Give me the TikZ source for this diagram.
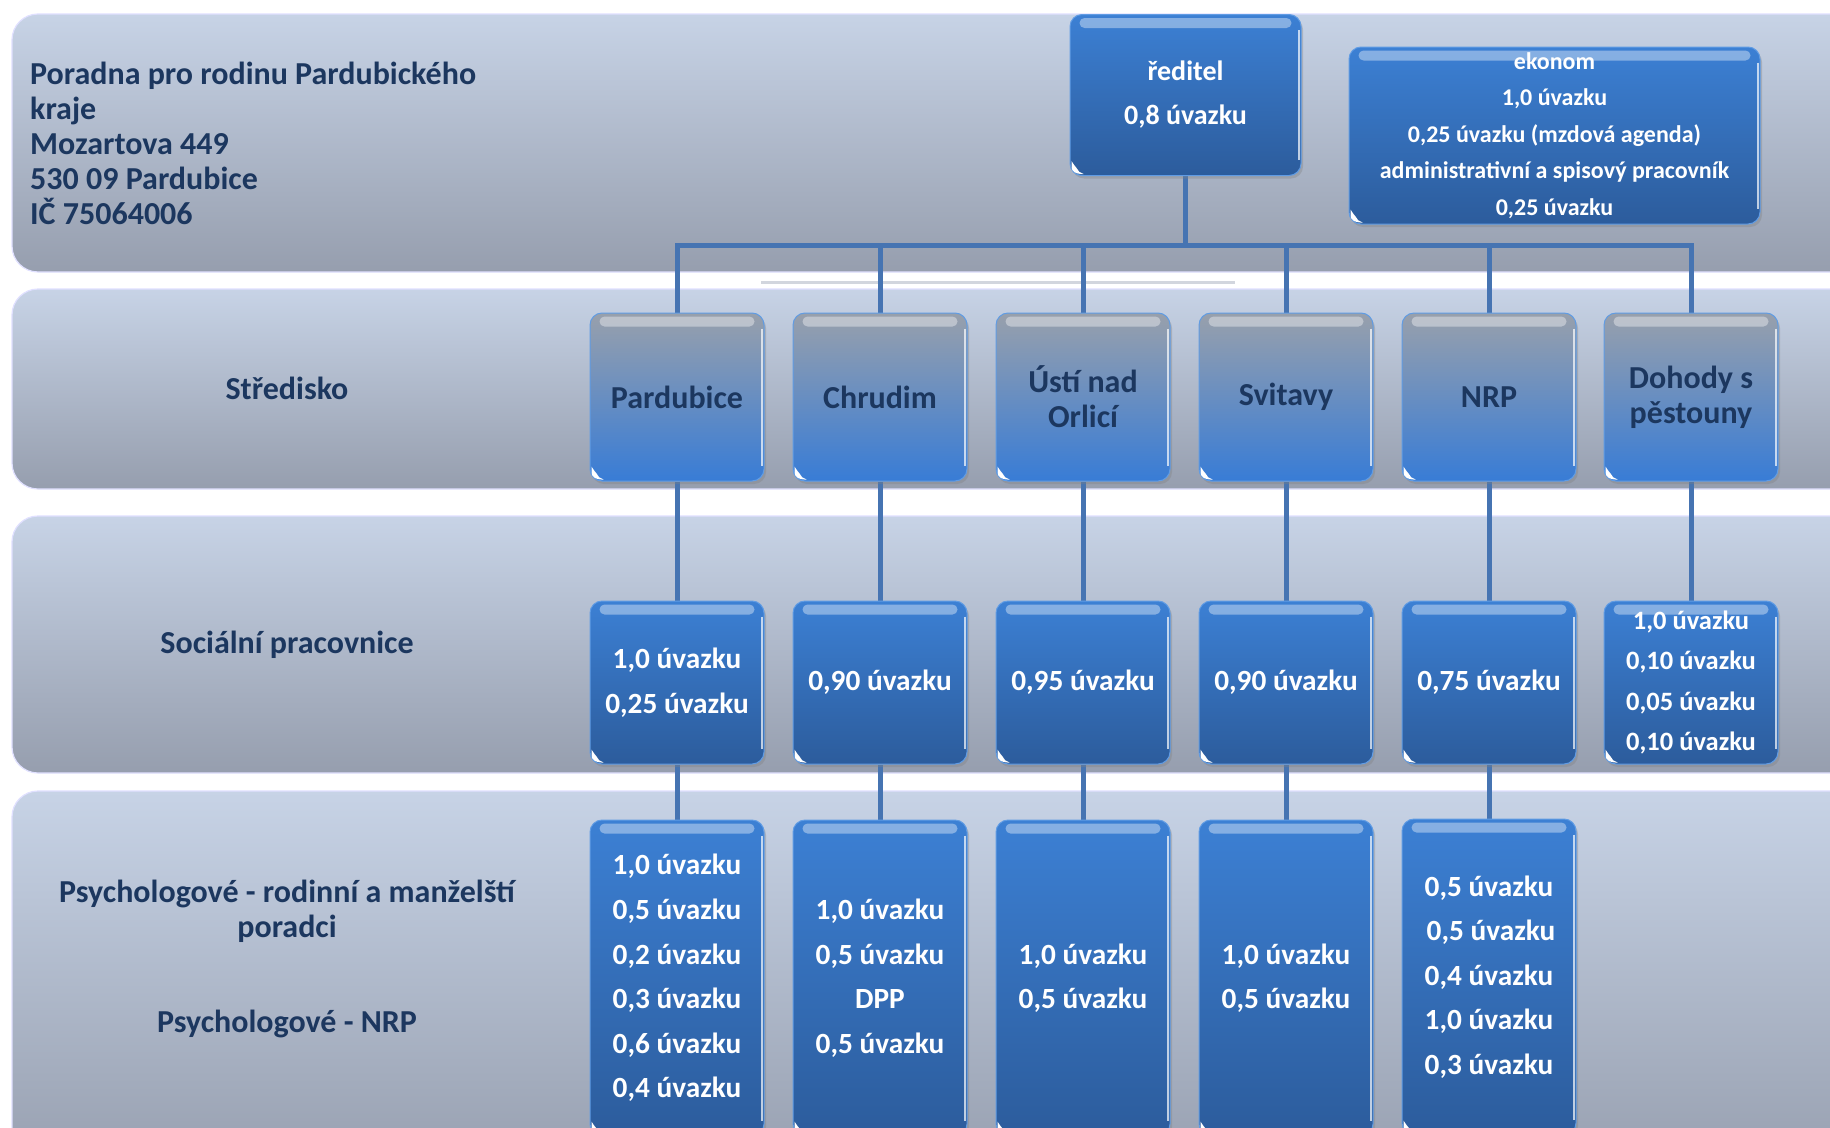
\documentclass[tikz,border=0pt]{standalone}
\usepackage{fontspec}
\setmainfont{Carlito}
\usetikzlibrary{shadows,calc}
\definecolor{navy}{RGB}{28,55,95}
\definecolor{conncol}{RGB}{70,116,178}
\definecolor{bandtop}{RGB}{199,211,230}
\definecolor{bandbot}{RGB}{150,158,174}
\definecolor{bluetop}{RGB}{60,128,212}
\definecolor{bluebot}{RGB}{44,92,156}
\definecolor{blueedge}{RGB}{96,156,228}
\definecolor{graytop}{RGB}{152,160,172}
\definecolor{graymid}{RGB}{104,140,196}
\definecolor{graybot}{RGB}{56,124,214}
\pgfdeclarelayer{bg}\pgfdeclarelayer{mid}\pgfsetlayers{bg,mid,main}
\tikzset{
  band/.style={rounded corners=26pt, top color=bandtop, bottom color=bandbot, draw=white!88!blue, line width=1.2pt},
  boxbase/.style={rounded corners=12pt, draw=blueedge, line width=1pt, align=center, inner sep=0pt,
     minimum width=174pt, font=\bfseries,
     drop shadow={shadow xshift=2pt,shadow yshift=-3pt,opacity=0.35}},
  bluebox/.style={boxbase, top color=bluetop, bottom color=bluebot, text=white},
  graybox/.style={boxbase, top color=graytop, middle color=graymid, bottom color=graybot, text=navy,
     minimum height=168pt, font=\bfseries\fontsize{32}{35}\selectfont},
  socbox/.style={bluebox, minimum height=163pt, font=\bfseries\fontsize{29.3}{45}\selectfont},
  psybox/.style={bluebox, minimum height=316pt, font=\bfseries\fontsize{29.3}{44.6}\selectfont},
  conn/.style={draw=conncol, line width=5pt},
  lbl/.style={text=navy, font=\bfseries\fontsize{32}{35}\selectfont, align=center, inner sep=0pt}
}
\newcommand{\gloss}[1]{%
  \fill[white,opacity=0.38,rounded corners=5pt] ([xshift=10pt,yshift=-4pt]#1.north west) rectangle ([xshift=-10pt,yshift=-14pt]#1.north east);
  \draw[white,opacity=0.7,line width=1.5pt] ([xshift=-2.5pt,yshift=-16pt]#1.north east) -- ([xshift=-2.5pt,yshift=16pt]#1.south east);
  \fill[white] ([xshift=2pt,yshift=15pt]#1.south west) -- ([xshift=2pt,yshift=9pt]#1.south west)
     to[out=-90,in=180] ([xshift=12pt,yshift=2pt]#1.south west) -- ([xshift=14pt,yshift=2pt]#1.south west)
     to[out=160,in=-70] ([xshift=7pt,yshift=8pt]#1.south west) to[out=110,in=-80] cycle;
}
\begin{document}
\begin{tikzpicture}[x=1pt,y=-1pt]
\useasboundingbox (0,0) rectangle (1830,1127);
\begin{pgfonlayer}{bg}
  \fill[white] (0,0) rectangle (1830,1127);
  \path[band] (12,14) rectangle (1880,272);
  \path[band] (12,289) rectangle (1880,489);
  \path[band] (12,516) rectangle (1880,773);
  \path[band] (12,791) rectangle (1880,1180);
  \draw[line width=3pt, color={rgb,255:red,210;green,214;blue,222}] (761,282) -- (1235,282);
\end{pgfonlayer}

% labels
\node[lbl, anchor=west, align=left] (title) at (30,143)
  {Poradna pro rodinu Pardubického\\kraje\\Mozartova 449\\530 09 Pardubice\\IČ 75064006};
\node[lbl] (lStred) at (287,388) {Středisko};
\node[lbl] (lSoc) at (287,645) {Sociální pracovnice};
\node[lbl] (lPsy) at (287,911) {Psychologové - rodinní a manželští\\poradci};
\node[lbl] (lNrp) at (287,1024) {Psychologové - NRP};

% top
\node[bluebox, minimum width=231pt, minimum height=161pt, font=\bfseries\fontsize{28}{44}\selectfont] (red) at (1185.5,95)
  {ředitel\\0,8 úvazku};
\node[bluebox, minimum width=411pt, minimum height=177pt, font=\bfseries\fontsize{24}{36.5}\selectfont] (eko) at (1554.5,135.5)
  {ekonom\\1,0 úvazku\\0,25 úvazku (mzdová agenda)\\administrativní a spisový pracovník\\0,25 úvazku};

% level 2
\node[graybox] (s1) at (677,397) {Pardubice};
\node[graybox] (s2) at (880,397) {Chrudim};
\node[graybox] (s3) at (1083,397) {Ústí nad\\Orlicí};
\node[graybox] (s4) at (1286,397) {Svitavy};
\node[graybox] (s5) at (1489,397) {NRP};
\node[graybox] (s6) at (1691,397) {Dohody s\\pěstouny};

% level 3
\node[socbox] (p1) at (677,682.5) {1,0 úvazku\\0,25 úvazku};
\node[socbox] (p2) at (880,682.5) {0,90 úvazku};
\node[socbox] (p3) at (1083,682.5) {0,95 úvazku};
\node[socbox] (p4) at (1286,682.5) {0,90 úvazku};
\node[socbox] (p5) at (1489,682.5) {0,75 úvazku};
\node[socbox, font=\bfseries\fontsize{26.5}{40.5}\selectfont] (p6) at (1691,682.5)
  {1,0 úvazku\\0,10 úvazku\\0,05 úvazku\\0,10 úvazku};

% level 4
\node[psybox] (q1) at (677,978) {1,0 úvazku\\0,5 úvazku\\0,2 úvazku\\0,3 úvazku\\0,6 úvazku\\0,4 úvazku};
\node[psybox] (q2) at (880,978) {1,0 úvazku\\0,5 úvazku\\DPP\\0,5 úvazku};
\node[psybox] (q3) at (1083,978) {1,0 úvazku\\0,5 úvazku};
\node[psybox] (q4) at (1286,978) {1,0 úvazku\\0,5 úvazku};
\node[psybox] (q5) at (1489,977) {0,5 úvazku\\\hspace*{4pt}0,5 úvazku\\0,4 úvazku\\1,0 úvazku\\0,3 úvazku};

\foreach \n in {red,eko,s1,s2,s3,s4,s5,s6,p1,p2,p3,p4,p5,p6,q1,q2,q3,q4,q5} {\gloss{\n}}

\coordinate (bus) at (1185.5,245);
\begin{pgfonlayer}{mid}
  \draw[conn] (red.south) -- (bus);
  \foreach \n in {s1,s2,s3,s4,s5,s6} {\draw[conn] (bus) -| (\n.north);}
  \foreach \i in {1,...,6} {\draw[conn] (s\i.south) -- (p\i.north);}
  \foreach \i in {1,...,5} {\draw[conn] (p\i.south) -- (q\i.north);}
\end{pgfonlayer}
\end{tikzpicture}
\end{document}
